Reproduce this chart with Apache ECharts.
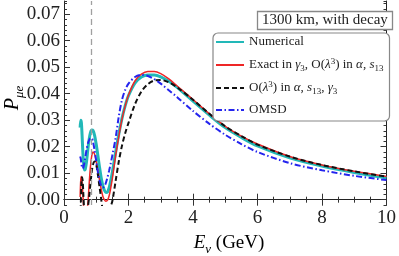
<!DOCTYPE html>
<html>
<head>
<meta charset="utf-8">
<script src="https://cdn.jsdelivr.net/npm/echarts@6/dist/echarts.min.js"></script>
<style>html,body{margin:0;padding:0;background:#fff}#c{width:399px;height:256px}</style>
</head>
<body>
<div id="c"></div>
<script>
const energy = [0.5,0.52,0.54,0.56,0.58,0.6,0.62,0.64,0.66,0.7,0.74,0.78,0.82,0.86,0.9,0.95,1.0,1.05,1.1,1.15,1.2,1.25,1.3,1.35,1.4,1.45,1.5,1.6,1.7,1.8,1.9,2.0,2.2,2.4,2.6,2.8,3.0,3.25,3.5,4.0,4.5,5.0,5.5,6.0,7.0,8.0,9.0,10.0];
const numerical = [0.0272,0.0300,0.0290,0.0245,0.0190,0.0148,0.0122,0.0112,0.0115,0.0145,0.0190,0.0228,0.0253,0.0263,0.0261,0.0242,0.0208,0.0167,0.0124,0.0085,0.0055,0.0036,0.0027,0.0029,0.0045,0.0072,0.0105,0.0178,0.0248,0.0308,0.0356,0.0393,0.0440,0.0463,0.0471,0.0471,0.0464,0.0447,0.0425,0.0372,0.0320,0.0272,0.0235,0.0203,0.0158,0.0127,0.0103,0.0083];
const exactGamma = [0.0010,0.0075,0.0088,0.0065,0.0030,-0.0010,-0.0050,-0.0080,-0.0080,-0.0050,-0.0015,0.0060,0.0125,0.0165,0.0180,0.0172,0.0145,0.0110,0.0075,0.0042,0.0015,0.0000,-0.0006,-0.0002,0.0015,0.0045,0.0080,0.0165,0.0240,0.0305,0.0355,0.0395,0.0448,0.0474,0.0484,0.0484,0.0476,0.0456,0.0430,0.0378,0.0325,0.0277,0.0240,0.0210,0.0163,0.0131,0.0107,0.0088];
const olam3 = [-0.0100,-0.0020,0.0060,0.0085,0.0070,0.0020,-0.0030,-0.0080,-0.0100,-0.0080,-0.0030,0.0010,0.0060,0.0105,0.0133,0.0144,0.0132,0.0095,0.0050,0.0005,-0.0040,-0.0065,-0.0075,-0.0070,-0.0050,-0.0025,-0.0005,0.0070,0.0145,0.0205,0.0252,0.0290,0.0360,0.0408,0.0436,0.0450,0.0452,0.0443,0.0425,0.0377,0.0325,0.0277,0.0240,0.0208,0.0163,0.0131,0.0107,0.0087];
const omsd = [0.0163,0.0155,0.0135,0.0122,0.0118,0.0122,0.0132,0.0145,0.0160,0.0190,0.0212,0.0225,0.0232,0.0232,0.0218,0.0185,0.0145,0.0105,0.0074,0.0054,0.0046,0.0050,0.0064,0.0085,0.0110,0.0138,0.0168,0.0232,0.0315,0.0378,0.0415,0.0438,0.0463,0.0471,0.0467,0.0455,0.0438,0.0413,0.0388,0.0335,0.0287,0.0245,0.0210,0.0180,0.0138,0.0111,0.0090,0.0074];
const yMajorTicks = [0,0.01,0.02,0.03,0.04,0.05,0.06,0.07];
const xTicks = [0,2,4,6,8,10];
const decayMarker = 0.85;

const serif = 'Liberation Serif';
const pair = v => energy.map((e,i)=>[e,v[i]]);
const chart = echarts.init(document.getElementById('c'), null, {renderer:'canvas'});

const frameLine = {show:true, lineStyle:{color:'#222', width:1}};
const minorYAxis = (pos, labels) => ({
  type:'value', position:pos, min:-0.002, max:0.075, interval:0.002,
  axisLine: frameLine,
  axisTick:{show:true, inside:true, length:3, lineStyle:{color:'#333'}},
  axisLabel:{show:labels, margin:4, fontFamily:serif, fontSize:19, color:'#222',
    formatter: v => (Math.abs(v*100 - Math.round(v*100)) < 1e-6 && v > -1e-9) ? v.toFixed(2) : ''},
  splitLine:{show:false}
});
const majorYAxis = pos => ({
  type:'value', position:pos, min:-0.002, max:0.075,
  axisLine:{show:false},
  axisTick:{show:true, inside:true, length:6, customValues:yMajorTicks, lineStyle:{color:'#333'}},
  axisLabel:{show:false, customValues:yMajorTicks},
  splitLine:{show:false}
});
const xAx = (pos, labels) => ({
  type:'value', position:pos, min:0, max:10, interval:2,
  axisLine: frameLine,
  axisTick:{show:true, inside:true, length:6, lineStyle:{color:'#333'}},
  minorTick:{show:true, splitNumber:4, length:3, lineStyle:{color:'#333'}},
  axisLabel:{show:labels, margin:4, fontFamily:serif, fontSize:19, color:'#222'},
  splitLine:{show:false}
});

const rich = {
  t:{fontFamily:serif, fontSize:13, color:'#222', lineHeight:16, padding:[0,0,2,0], verticalAlign:'bottom'},
  i:{fontFamily:serif, fontSize:13, fontStyle:'italic', color:'#222', lineHeight:16, padding:[0,0,2,0], verticalAlign:'bottom'},
  sub:{fontFamily:serif, fontSize:9, color:'#222', lineHeight:10, verticalAlign:'bottom'},
  sup:{fontFamily:serif, fontSize:9, color:'#222', lineHeight:10, verticalAlign:'top'}
};
const legendText = {
  'Numerical':'{t|Numerical}',
  'Exact':'{t|Exact in }{i|γ}{sub|3}{t|, O(}{i|λ}{sup|3}{t|) in }{i|α}{t|, }{i|s}{sub|13}',
  'Olam':'{t|O(}{i|λ}{sup|3}{t|) in }{i|α}{t|, }{i|s}{sub|13}{t|, }{i|γ}{sub|3}',
  'OMSD':'{t|OMSD}'
};

chart.setOption({
  animation:false,
  backgroundColor:'#fff',
  grid:{left:64, right:10, top:1, bottom:51},
  title:{text:'1300 km, with decay', left:257, top:11, padding:[2,5,2,5],
    borderColor:'#888', borderWidth:1.3, backgroundColor:'#fff',
    textStyle:{fontFamily:serif, fontSize:15, fontWeight:'normal', color:'#222'}},
  legend:{orient:'vertical', left:213, top:33, padding:[2,6,3,2], itemGap:7,
    itemWidth:28, itemHeight:12, borderColor:'#888', borderWidth:1.2, borderRadius:5,
    backgroundColor:'#fff', data:['Numerical','Exact','Olam','OMSD'],
    itemStyle:{opacity:0, borderWidth:0},
    formatter: n => legendText[n], textStyle:{rich:rich}},
  xAxis:[xAx('bottom', true), xAx('top', false)],
  yAxis:[minorYAxis('left', true), majorYAxis('left'), minorYAxis('right', false), majorYAxis('right')],
  graphic:[
    {type:'text', x:13, y:98, rotation:Math.PI/2,
      style:{text:'{p|P}{s|μe}', align:'center', verticalAlign:'middle',
        rich:{p:{fontFamily:serif, fontSize:20, fontStyle:'italic', color:'#222', lineHeight:20, verticalAlign:'top'},
              s:{fontFamily:serif, fontSize:13, fontStyle:'italic', color:'#222', lineHeight:13, padding:[10,0,0,0], verticalAlign:'top'}}}},
    {type:'text', x:229, y:243,
      style:{text:'{p|E}{s|ν}{q| (GeV)}', align:'center', verticalAlign:'middle',
        rich:{p:{fontFamily:serif, fontSize:19, fontStyle:'italic', color:'#222', lineHeight:19, verticalAlign:'top'},
              s:{fontFamily:serif, fontSize:13, fontStyle:'italic', color:'#222', lineHeight:13, padding:[10,0,0,0], verticalAlign:'top'},
              q:{fontFamily:serif, fontSize:19, color:'#222', lineHeight:19, verticalAlign:'top'}}}}
  ],
  series:[
    {name:'Numerical', type:'line', data:pair(numerical), showSymbol:false, symbol:'none', smooth:0.3,
      lineStyle:{color:'#22b8b8', width:3}, itemStyle:{color:'#22b8b8'},
      markLine:{silent:true, symbol:'none', label:{show:false},
        lineStyle:{color:'#a0a0a0', type:[6,4], width:1.3}, data:[{xAxis:decayMarker}]}},
    {name:'Exact', type:'line', data:pair(exactGamma), showSymbol:false, symbol:'none', smooth:0.3,
      lineStyle:{color:'#ee2626', width:1.5}, itemStyle:{color:'#ee2626'}},
    {name:'Olam', type:'line', data:pair(olam3), showSymbol:false, symbol:'none', smooth:0.3,
      lineStyle:{color:'#111', width:2, type:[5,3]}, itemStyle:{color:'#111'}},
    {name:'OMSD', type:'line', data:pair(omsd), showSymbol:false, symbol:'none', smooth:0.3,
      lineStyle:{color:'#2424ee', width:2, type:[6,2.5,1.5,2.5]}, itemStyle:{color:'#2424ee'}}
  ]
});
</script>
</body>
</html>
